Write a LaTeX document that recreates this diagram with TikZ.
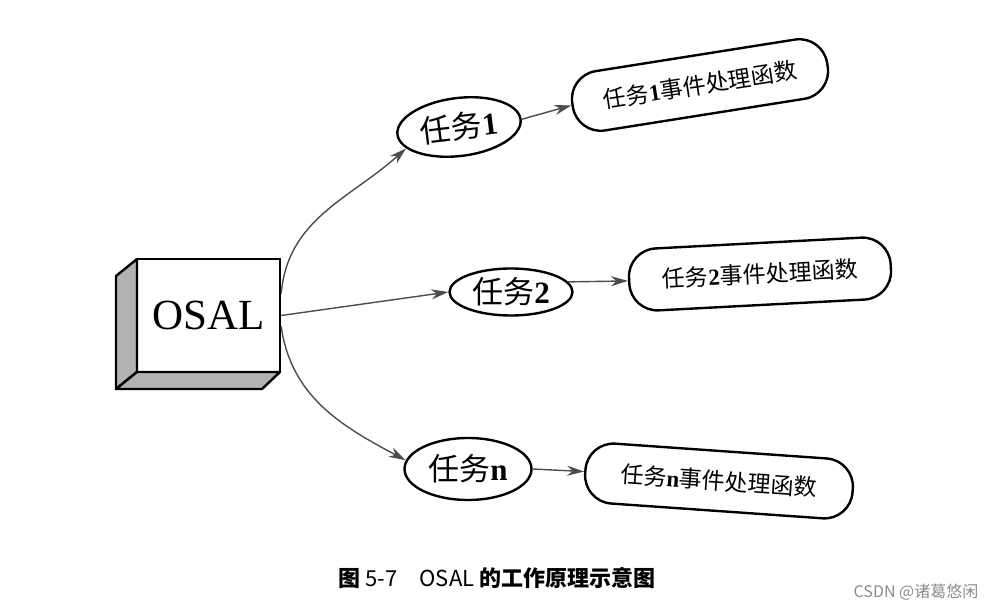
\documentclass[tikz,border=0pt]{standalone}
\usepackage{fontspec}
\setmainfont{Liberation Serif}
\newfontfamily\cjk{Noto Sans CJK SC}
\usetikzlibrary{shapes.geometric,arrows.meta,calc}
\tikzset{
  shapeline/.style={draw=black,line width=1.2pt},
  taskell/.style={shapeline,ellipse,inner sep=0pt,font=\fontsize{15.5}{17}\selectfont},
  handlerbox/.style={shapeline,rectangle,rounded corners=14pt,inner sep=0pt,font=\fontsize{11.5}{13}\selectfont},
  arr/.style={draw=black!70,line width=0.7pt,-{Stealth[length=8.5pt,width=5pt]}},
  face/.style={draw=black,line width=1.2pt,fill=black!30,line join=round}
}
\begin{document}
\begin{tikzpicture}[x=0.5pt,y=0.5pt]
\useasboundingbox (0,0) rectangle (986,611);
% OSAL box
\node[shapeline,rectangle,minimum width=71.5pt,minimum height=56.5pt,inner sep=0pt,fill=white,
      font=\fontsize{21.5}{23}\selectfont] (osal) at (208.5,295.5) {OSAL};
\draw[face] (137,352) -- (116,335) -- (116,222) -- (137,239) -- cycle;
\draw[face] (137,239) -- (116,222) -- (262,222) -- (280,239) -- cycle;
% tasks
\node[taskell,minimum width=62pt,minimum height=29pt,rotate=7] (t1) at (459,484) {{\cjk 任务}\textbf{1}};
\node[taskell,minimum width=61.5pt,minimum height=23.5pt] (t2) at (511,319) {{\cjk 任务}\textbf{2}};
\node[taskell,minimum width=63.5pt,minimum height=31pt] (tn) at (468,142) {{\cjk 任务}\textbf{n}};
% handlers
\node[handlerbox,minimum width=129pt,minimum height=30pt,rotate=9] (r1) at (700,526) {{\cjk 任务}\textbf{1}{\cjk 事件处理函数}};
\node[handlerbox,minimum width=131pt,minimum height=31pt,rotate=3] (r2) at (760,337) {{\cjk 任务}\textbf{2}{\cjk 事件处理函数}};
\node[handlerbox,minimum width=134pt,minimum height=30pt,rotate=-4] (rn) at (719,130) {{\cjk 任务}\textbf{n}{\cjk 事件处理函数}};
% connectors
\coordinate (s1) at ($(osal.east)+(0,22)$);
\coordinate (s3) at ($(osal.east)+(0,-11)$);
\draw[arr] (s1) to[out=85,in=222] (t1.195);
\draw[arr] (osal.east) -- (t2.west);
\draw[arr] (s3) to[out=-82,in=152] (tn.172);
\draw[arr] (t1.east) -- (r1.west);
\draw[arr] (t2.10) -- (r2.west);
\draw[arr] (tn.east) -- (rn.west);
% caption
\node[font=\cjk\fontsize{11}{13}\selectfont] (cap) at (497,33) {\textbf{图} 5-7\quad OSAL \textbf{的工作原理示意图}};
\node[font=\cjk\fontsize{8}{10}\selectfont,text=black!45] (wm) at (916,19) {CSDN @诸葛悠闲};
\end{tikzpicture}
\end{document}
